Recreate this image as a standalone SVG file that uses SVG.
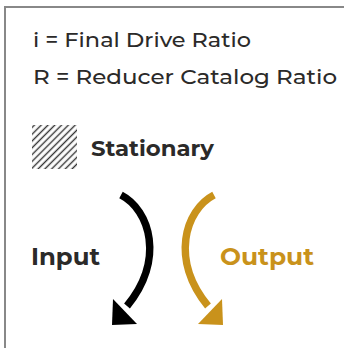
<svg xmlns="http://www.w3.org/2000/svg" width="344" height="348" viewBox="0 0 344 348">
<style>
.t{font-family:Montserrat,"Noto Sans","Liberation Sans",sans-serif;fill:#2b2a29}
.r{font-size:21px;font-weight:500}
.b{font-size:22px;font-weight:700}
.big{font-size:24px}
</style>
<defs>
<pattern id="hatch" width="10" height="4.8" patternUnits="userSpaceOnUse" patternTransform="rotate(-45)">
<line x1="0" y1="2.4" x2="10" y2="2.4" stroke="#333" stroke-width="1.4"/>
</pattern>
</defs>
<rect width="344" height="348" fill="#fff"/>
<polyline points="5,348 5,7 344,7" fill="none" stroke="#888" stroke-width="2"/>
<g id="legend-i"><text class="t r" x="33" y="47" textLength="218" lengthAdjust="spacingAndGlyphs">i = Final Drive Ratio</text></g>
<g id="legend-R"><text class="t r" x="33" y="84" textLength="304" lengthAdjust="spacingAndGlyphs">R = Reducer Catalog Ratio</text></g>
<g id="stationary">
<rect x="32" y="125" width="45" height="44" fill="url(#hatch)"/>
<text class="t b" x="91" y="156" textLength="123" lengthAdjust="spacingAndGlyphs">Stationary</text>
</g>
<g id="input"><text class="t b big" x="31" y="265" textLength="69" lengthAdjust="spacingAndGlyphs">Input</text></g>
<g id="output"><text class="t b big" x="220" y="265" textLength="94" lengthAdjust="spacingAndGlyphs" style="fill:#c9921b">Output</text></g>
<g id="connectors">
<path d="M121,195 C150,210 165,260 127,306" fill="none" stroke="#000" stroke-width="7.5"/>
<polygon points="113,299 112,325 137,324" fill="#000"/>
<path d="M214,195 C185,210 170,260 208,306" fill="none" stroke="#c9921b" stroke-width="7.5"/>
<polygon points="222,299 223,325 198,324" fill="#c9921b"/>
</g>
</svg>
